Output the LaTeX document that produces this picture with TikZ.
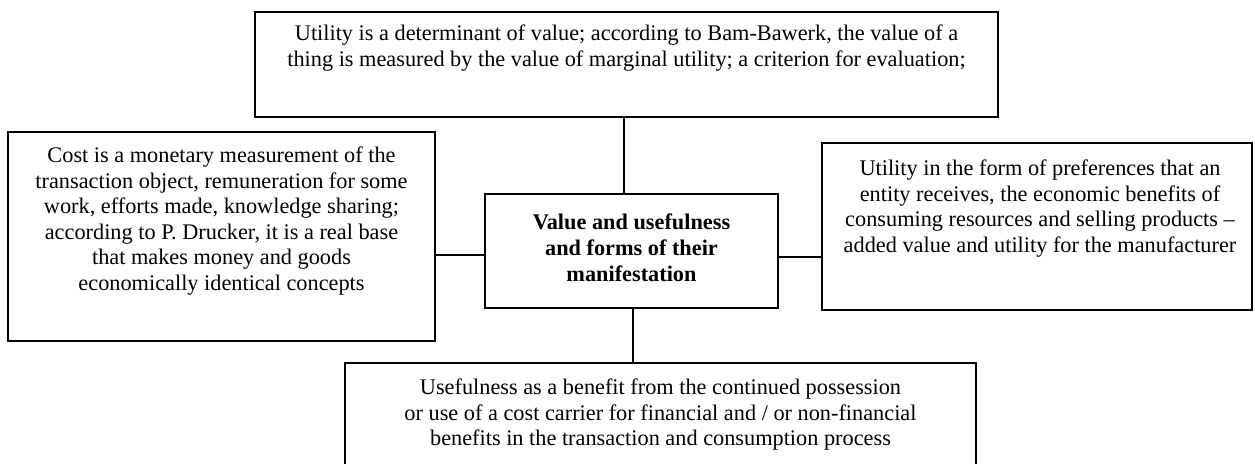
\documentclass[tikz,border=0pt]{standalone}
\usepackage{fontspec}
\setmainfont{Liberation Serif}
\begin{document}
\begin{tikzpicture}[x=0.5pt,y=-0.5pt,
  box/.style={draw,line width=0.9pt,inner sep=0pt},
  lbl/.style={align=center,inner sep=0pt,font=\fontsize{11.15}{12.75}\selectfont},
  conn/.style={draw,line width=0.9pt}]
\clip (0,0) rectangle (1255,463);
\fill[white] (0,0) rectangle (1255,463);
% boxes
\node[box,minimum width=371.5pt,minimum height=52.5pt] (top) at (626.5,64.5) {};
\node[box,minimum width=213.5pt,minimum height=104.5pt] (left) at (221.5,236.5) {};
\node[box,minimum width=146.5pt,minimum height=57pt] (center) at (631.5,251) {};
\node[box,minimum width=215pt,minimum height=83.5pt] (right) at (1037,226.5) {};
\node[box,minimum width=315.5pt,minimum height=60pt] (bottom) at (660.5,423) {};
% texts
\node[lbl] (ttop) at (626.5,48) {Utility is a determinant of value; according to Bam-Bawerk, the value of a\\thing is measured by the value of marginal utility; a criterion for evaluation;};
\node[lbl] (tleft) at (221.5,221) {Cost is a monetary measurement of the\\transaction object, remuneration for some\\work, efforts made, knowledge sharing;\\according to P. Drucker, it is a real base\\that makes money and goods\\economically identical concepts};
\node[lbl,font=\fontsize{11.15}{13}\selectfont\bfseries] (tcenter) at (631.5,247.5) {Value and usefulness\\and forms of their\\manifestation};
\node[lbl] (tright) at (1040,208.5) {Utility in the form of preferences that an\\entity receives, the economic benefits of\\consuming resources and selling products --\\added value and utility for the manufacturer};
\node[lbl] (tbottom) at (660.5,415) {Usefulness as a benefit from the continued possession\\or use of a cost carrier for financial and / or non-financial\\benefits in the transaction and consumption process};
% connectors
\draw[conn] ([xshift=-3.75pt]center.north) -- ([xshift=-3.75pt]center.north |- top.south);
\draw[conn] ([yshift=-2pt]center.west) -- ([yshift=-2pt]center.west -| left.east);
\draw[conn] ([yshift=-3pt]center.east) -- ([yshift=-3pt]center.east -| right.west);
\draw[conn] ([xshift=0.75pt]center.south) -- ([xshift=0.75pt]center.south |- bottom.north);
\end{tikzpicture}
\end{document}
